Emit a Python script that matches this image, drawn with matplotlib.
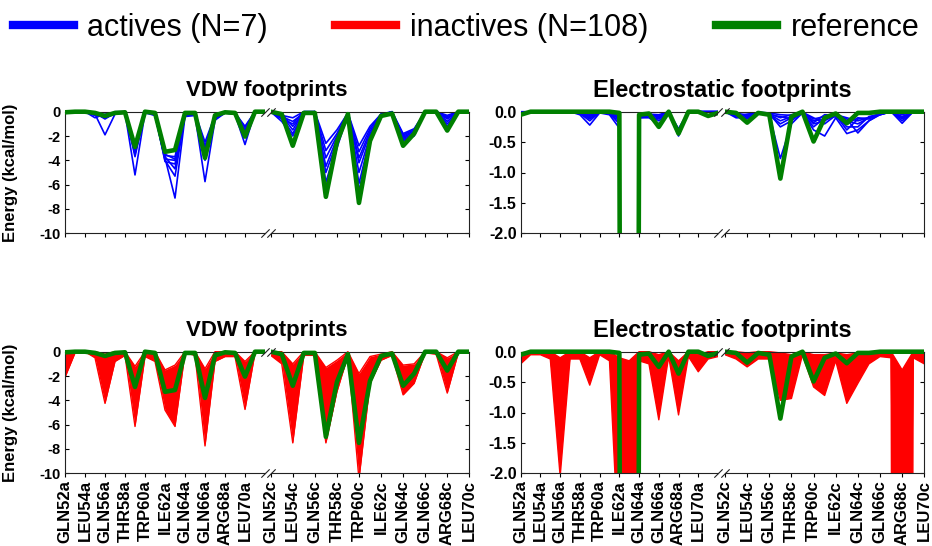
import numpy as np
import matplotlib
matplotlib.use("Agg")
import matplotlib.pyplot as plt
import matplotlib.patches as mpatches
from matplotlib.lines import Line2D

plt.rcParams['font.family'] = ['Liberation Sans', 'DejaVu Sans']

# ---------------------------------------------------------------- residues
res_a = list(range(52, 73))   # chain a: GLN52a .. 72a
res_c = list(range(52, 71))   # chain c: GLN52c .. LEU70c
tick_resids = [52, 54, 56, 58, 60, 62, 64, 66, 68, 70]
tick_names = ['GLN52', 'LEU54', 'GLN56', 'THR58', 'TRP60',
              'ILE62', 'GLN64', 'GLN66', 'ARG68', 'LEU70']

# ---------------------------------------------------------------- VDW (kcal/mol)
vdw_ref_a = [-0.05, 0, 0, -0.1, -0.35, -0.1, -0.05, -2.9, 0, -0.1, -3.3, -3.15,
             -0.1, -0.1, -3.8, -0.3, -0.05, -0.1, -2.05, 0, 0]
vdw_ref_c = [0, -0.2, -2.8, -0.1, -0.1, -7.0, -2.5, -0.2, -7.5, -2.4, -0.35, -0.15,
             -2.8, -1.8, 0, 0, -1.55, 0, 0]

vdw_act_a = [
    [-0.05, 0, 0, -0.2, -1.9, -0.2, -0.1, -5.2, -0.1, -0.3, -3.8, -7.1, -0.4, -0.3, -5.75, -0.7, -0.1, -0.2, -2.7, 0, 0],
    [0, 0, 0, -0.1, -0.6, -0.1, -0.05, -3.7, 0, -0.2, -4.0, -5.3, -0.3, -0.2, -4.0, -0.5, -0.05, -0.1, -2.0, 0, 0],
    [-0.1, 0, 0, -0.3, -0.3, -0.1, 0, -3.3, 0, -0.1, -3.7, -4.7, -0.2, -0.3, -3.5, -0.4, 0, -0.1, -1.3, 0, 0],
    [-0.05, 0, 0, -0.2, -0.4, 0, 0, -3.0, 0, -0.2, -3.9, -4.0, -0.3, -0.2, -3.0, -0.6, -0.1, -0.2, -1.5, 0, 0],
    [-0.15, 0, 0, -0.5, -0.2, -0.1, -0.05, -3.5, -0.05, -0.1, -3.6, -3.7, -0.2, -0.1, -2.5, -0.3, 0, -0.1, -1.8, 0, 0],
    [0, 0, 0, -0.2, -0.5, -0.2, 0, -3.1, 0, -0.3, -3.5, -3.9, -0.1, -0.2, -3.2, -0.5, -0.05, -0.1, -1.2, 0, 0],
    [-0.1, 0, 0, -0.3, -0.3, -0.1, 0, -3.4, 0, -0.2, -4.1, -4.3, -0.3, -0.3, -2.8, -0.4, 0, -0.2, -1.6, 0, 0],
]
vdw_act_c = [
    [0, -0.8, -2.0, -0.1, 0, -6.4, -3.0, -0.2, -6.5, -2.5, -0.4, -0.1, -2.4, -2.0, 0, 0, -1.2, 0, 0],
    [0, -0.5, -1.8, -0.1, 0, -5.8, -2.8, -0.1, -5.9, -2.2, -0.3, -0.1, -2.3, -1.9, 0, 0, -1.0, 0, 0],
    [0, -0.3, -1.5, 0, 0, -5.0, -2.5, -0.2, -5.0, -2.0, -0.3, 0, -2.2, -1.8, 0, 0, -0.8, 0, 0],
    [0, -0.2, -1.2, -0.1, 0, -4.5, -2.2, -0.1, -4.2, -1.8, -0.2, -0.1, -2.1, -1.7, 0, 0, -0.6, 0, 0],
    [0, -0.6, -1.0, 0, 0, -3.8, -2.0, -0.2, -3.8, -1.6, -0.3, 0, -2.0, -1.6, 0, 0, -0.5, 0, 0],
    [0, -0.4, -0.8, -0.1, 0, -3.2, -1.8, -0.1, -3.3, -1.4, -0.2, -0.1, -1.9, -1.5, 0, 0, -0.4, 0, 0],
    [0, -0.3, -0.5, 0, 0, -2.6, -1.5, -0.1, -2.8, -1.2, -0.2, 0, -1.8, -1.4, 0, 0, -0.3, 0, 0],
]
vdw_inact_a = [
    [-2.1, -0.1, 0, -0.5, -4.25, -0.8, -0.3, -6.15, -0.4, -0.8, -4.8, -6.15, -0.1, -0.3, -7.75, -0.8, -0.4, -0.4, -4.75, -0.1, 0],
    [-0.8, 0, 0, -0.3, -2.4, -0.4, -0.1, -4.0, -0.2, -0.4, -3.2, -4.0, -0.05, -0.2, -5.0, -0.5, -0.2, -0.2, -2.8, 0, 0],
    [-0.5, 0, 0, -0.1, -1.0, -0.2, 0, -2.2, 0, -0.2, -2.2, -2.0, 0, -0.1, -2.5, -0.2, -0.1, -0.1, -1.5, 0, 0],
    [0, 0, 0, 0, -0.2, 0, 0, -1.2, 0, 0, -1.5, -1.1, 0, 0, -1.4, 0, 0, 0, -0.8, 0, 0],
]
vdw_inact_c = [
    [-0.3, -1.0, -7.5, -0.3, -0.3, -7.5, -3.3, -0.3, -10.5, -2.6, -0.7, -0.3, -3.55, -2.6, -0.1, -0.2, -3.4, -0.1, 0],
    [-0.1, -0.5, -4.0, -0.2, -0.2, -5.0, -2.4, -0.2, -6.0, -2.0, -0.5, -0.2, -2.6, -2.0, 0, -0.1, -2.0, 0, 0],
    [0, -0.2, -2.0, -0.1, -0.1, -2.5, -1.5, -0.1, -3.0, -1.2, -0.3, -0.1, -1.8, -1.5, 0, 0, -1.0, 0, 0],
    [0, 0, -1.0, 0, 0, -1.3, -0.7, 0, -1.8, -0.4, -0.2, 0, -1.1, -1.0, 0, 0, -0.5, 0, 0],
]

# ---------------------------------------------------------------- electrostatics (kcal/mol)
ele_ref_a = [-0.05, 0, 0, 0, 0, 0, 0, 0, 0, 0, -0.02, -60, -0.05, -0.03, -0.25, 0, -0.36,
             0, 0, -0.07, -0.02]
ele_ref_c = [0, -0.02, -0.18, -0.02, -0.05, -1.1, -0.08, 0, -0.49, -0.1, -0.03, -0.19,
             -0.02, -0.02, 0, 0, 0, 0, 0]

ele_act_a = [
    [-0.03, 0, 0, 0, 0, 0, -0.05, -0.22, -0.02, -0.05, -0.27, -45, -0.1, -0.1, -0.2, -0.02, -0.4, 0, 0, 0, 0],
    [-0.02, 0, 0, 0, 0, 0, -0.03, -0.15, -0.01, -0.03, -0.2, -50, -0.1, -0.08, -0.12, -0.01, -0.35, 0, 0, 0, 0],
    [-0.05, 0, 0, 0, 0, 0, -0.02, -0.12, 0, -0.04, -0.15, -55, -0.09, -0.06, -0.1, 0, -0.3, 0, 0, 0, 0],
    [0, 0, 0, 0, 0, 0, -0.03, -0.1, -0.02, -0.02, -0.1, -40, -0.08, -0.05, -0.15, -0.02, -0.32, 0, 0, 0, 0],
    [-0.01, 0, 0, 0, 0, 0, -0.02, -0.08, 0, -0.03, -0.12, -48, -0.07, -0.05, -0.08, -0.01, -0.28, 0, 0, 0, 0],
    [-0.02, 0, 0, 0, 0, 0, -0.01, -0.05, 0, -0.02, -0.08, -42, -0.06, -0.04, -0.05, 0, -0.3, 0, 0, 0, 0],
    [-0.03, 0, 0, 0, 0, 0, -0.02, -0.06, -0.01, -0.03, -0.05, -52, -0.08, -0.06, -0.07, -0.01, -0.33, 0, 0, 0, 0],
]
ele_act_c = [
    [0, -0.1, -0.1, -0.02, -0.05, -0.77, -0.2, -0.02, -0.3, -0.4, -0.1, -0.36, -0.3, -0.15, -0.05, 0, -0.19, 0, 0],
    [0, -0.05, -0.08, -0.02, -0.03, -0.25, -0.15, -0.01, -0.2, -0.15, -0.05, -0.15, -0.2, -0.1, -0.05, 0, -0.1, 0, 0],
    [0, -0.08, -0.05, -0.01, -0.05, -0.2, -0.1, -0.02, -0.15, -0.12, -0.08, -0.2, -0.1, -0.12, -0.03, 0, -0.12, 0, 0],
    [0, -0.03, -0.12, -0.02, -0.04, -0.15, -0.08, -0.01, -0.1, -0.2, -0.06, -0.25, -0.25, -0.08, -0.04, 0, -0.08, 0, 0],
    [0, -0.02, -0.06, -0.01, -0.03, -0.1, -0.05, -0.02, -0.25, -0.1, -0.05, -0.1, -0.15, -0.1, -0.05, 0, -0.15, 0, 0],
    [0, -0.06, -0.04, -0.02, -0.05, -0.08, -0.12, -0.01, -0.12, -0.08, -0.07, -0.12, -0.35, -0.15, -0.04, 0, -0.05, 0, 0],
    [0, -0.04, -0.07, -0.01, -0.02, -0.05, -0.06, -0.02, -0.18, -0.05, -0.06, -0.3, -0.12, -0.1, -0.03, 0, -0.1, 0, 0],
]
ele_inact_a = [
    [-0.2, -0.05, -0.05, -0.12, -2.05, -0.12, -0.12, -0.55, -0.05, -0.15, -3.5, -60, -0.15, -0.2, -1.12, -0.08, -1.04, -0.08, -0.33, -0.12, -0.08],
    [-0.1, -0.03, -0.03, -0.08, -1.4, -0.08, -0.08, -0.35, -0.03, -0.1, -1.5, -20, -0.1, -0.15, -0.7, -0.05, -0.6, -0.05, -0.2, -0.08, -0.05],
    [-0.05, -0.01, -0.01, -0.04, -0.5, -0.04, -0.04, -0.2, -0.01, -0.05, -0.7, -3.0, -0.06, -0.1, -0.3, -0.02, -0.3, -0.02, -0.1, -0.04, -0.02],
    [-0.02, 0, 0, 0, -0.1, 0, 0, -0.1, 0, 0, -0.1, -0.15, 0, 0, -0.05, 0, -0.15, 0, -0.05, 0, 0],
]
ele_inact_c = [
    [-0.05, -0.12, -0.25, -0.12, -0.12, -0.8, -0.77, -0.05, -0.58, -0.72, -0.15, -0.85, -0.52, -0.2, -0.08, -0.1, -60, -0.1, -0.2],
    [-0.03, -0.08, -0.15, -0.08, -0.08, -0.5, -0.4, -0.03, -0.35, -0.4, -0.1, -0.5, -0.3, -0.12, -0.05, -0.05, -15, -0.05, -0.12],
    [-0.01, -0.04, -0.08, -0.04, -0.04, -0.2, -0.2, -0.01, -0.15, -0.2, -0.05, -0.2, -0.15, -0.06, -0.02, -0.02, -1.8, -0.02, -0.05],
    [0, 0, -0.02, 0, 0, -0.02, -0.05, 0, -0.05, -0.05, -0.02, -0.05, -0.02, -0.02, 0, 0, -0.3, 0, 0],
]

vdw_yticks = [0, -2, -4, -6, -8, -10]
vdw_yticklabels = ['0', '-2', '-4', '-6', '-8', '-10']
ele_yticks = [0.0, -0.5, -1.0, -1.5, -2.0]
ele_yticklabels = ['0.0', '-0.5', '-1.0', '-1.5', '-2.0']

BLUE, RED, GREEN = '#0000ff', '#ff0000', '#008000'

W, H = 932, 546
fig = plt.figure(figsize=(W / 100, H / 100), dpi=100)


def rect(x0, x1, ytop, ybot):
    return [x0 / W, 1 - ybot / H, (x1 - x0) / W, (ybot - ytop) / H]


def clipped(ax, artist):
    # keep full line width along the zero line at the top spine
    clip = mpatches.Rectangle((0, 0), 1, 1.04, transform=ax.transAxes,
                              facecolor='none', edgecolor='none')
    artist.set_clip_path(clip)


def draw_sub(ax, x, actives, inactives, ref):
    x = np.asarray(x)
    if inactives is not None:
        arr = np.asarray(inactives, dtype=float)
        poly = ax.fill_between(x, arr.min(axis=0), arr.max(axis=0),
                               color=RED, lw=0, zorder=1.5)
        clipped(ax, poly)
        for row in inactives:
            ln, = ax.plot(x, row, color=RED, lw=1.0, zorder=1.6)
            clipped(ax, ln)
    if actives is not None:
        for row in actives:
            ln, = ax.plot(x, row, color=BLUE, lw=1.2, zorder=2)
            clipped(ax, ln)
    ln, = ax.plot(x, ref, color=GREEN, lw=3.3, zorder=3,
                  solid_joinstyle='round')
    clipped(ax, ln)


def style_sub(ax, side, suffix, xlim, ylim, yticks, yticklabels, show_x, ysize):
    ax.set_xlim(*xlim)
    ax.set_ylim(*ylim)
    ax.set_xticks(tick_resids)
    if show_x:
        ax.set_xticklabels([n + suffix for n in tick_names], rotation=90,
                           fontsize=12, fontweight='bold')
    else:
        ax.set_xticklabels([])
    ax.tick_params(axis='x', direction='out', length=3, width=0.8, pad=2)
    ax.set_yticks(yticks)
    for s in ax.spines.values():
        s.set_linewidth(0.8)
        s.set_color('#222222')
    d = 6.0  # break-mark size in points
    kw = dict(marker=[(-1, -1), (1, 1)], markersize=d, linestyle='none',
              color='#222222', mec='#222222', mew=0.8, clip_on=False,
              transform=ax.transAxes, zorder=5)
    if side == 'left':
        ax.spines['right'].set_visible(False)
        ax.yaxis.tick_left()
        ax.set_yticklabels(yticklabels, fontsize=ysize, fontweight='bold')
        ax.plot([1, 1], [0, 1], **kw)
    else:
        ax.spines['left'].set_visible(False)
        ax.yaxis.tick_right()
        ax.set_yticklabels([])
        ax.plot([0, 0], [0, 1], **kw)
    ax.tick_params(axis='y', direction='in', length=3, width=0.8, pad=3)


def panel(xa, xc, ytop, ybot, data_a, data_c, ylim, yticks, yticklabels,
          title, show_x, show_ylabel, ysize, tsize):
    ax_a = fig.add_axes(rect(xa[0], xa[1], ytop, ybot))
    ax_c = fig.add_axes(rect(xc[0], xc[1], ytop, ybot))
    draw_sub(ax_a, res_a, *data_a)
    draw_sub(ax_c, res_c, *data_c)
    style_sub(ax_a, 'left', 'a', (52, 72), ylim, yticks, yticklabels, show_x, ysize)
    style_sub(ax_c, 'right', 'c', (52, 70), ylim, yticks, yticklabels, show_x, ysize)
    if show_ylabel:
        ax_a.set_ylabel('Energy (kcal/mol)', fontsize=12, fontweight='bold')
        ax_a.yaxis.set_label_coords(-0.235, 0.5)
    cx = (xa[0] + xc[1]) / 2 / W
    fig.text(cx, 1 - (ytop - 21) / H, title, ha='center', va='center',
             fontsize=tsize, fontweight='bold')


LA, LC = (65, 265), (270.7, 469.3)
RA, RC = (520.7, 718), (725, 924.3)
TOP = (111.7, 233.3)
BOT = (351.7, 473.3)

panel(LA, LC, *TOP, (vdw_act_a, None, vdw_ref_a), (vdw_act_c, None, vdw_ref_c),
      (-10, 0), vdw_yticks, vdw_yticklabels, 'VDW footprints', False, True, 10.5, 16)
panel(RA, RC, *TOP, (ele_act_a, None, ele_ref_a), (ele_act_c, None, ele_ref_c),
      (-2, 0), ele_yticks, ele_yticklabels, 'Electrostatic footprints', False, False, 11.5, 17)
panel(LA, LC, *BOT, (None, vdw_inact_a, vdw_ref_a), (None, vdw_inact_c, vdw_ref_c),
      (-10, 0), vdw_yticks, vdw_yticklabels, 'VDW footprints', True, True, 10.5, 16)
panel(RA, RC, *BOT, (None, ele_inact_a, ele_ref_a), (None, ele_inact_c, ele_ref_c),
      (-2, 0), ele_yticks, ele_yticklabels, 'Electrostatic footprints', True, False, 11.5, 17)

handles = [Line2D([], [], color=BLUE, lw=6),
           Line2D([], [], color=RED, lw=6),
           Line2D([], [], color=GREEN, lw=6)]
labels = ['actives (N=7)', 'inactives (N=108)', 'reference']
fig.legend(handles, labels, loc='center', bbox_to_anchor=(0.5, 1 - 28 / H),
           ncol=3, frameon=False, fontsize=22, handlelength=2.0,
           handletextpad=0.45, columnspacing=2.2, borderaxespad=0, borderpad=0)

fig.savefig('out.png', dpi=100)
